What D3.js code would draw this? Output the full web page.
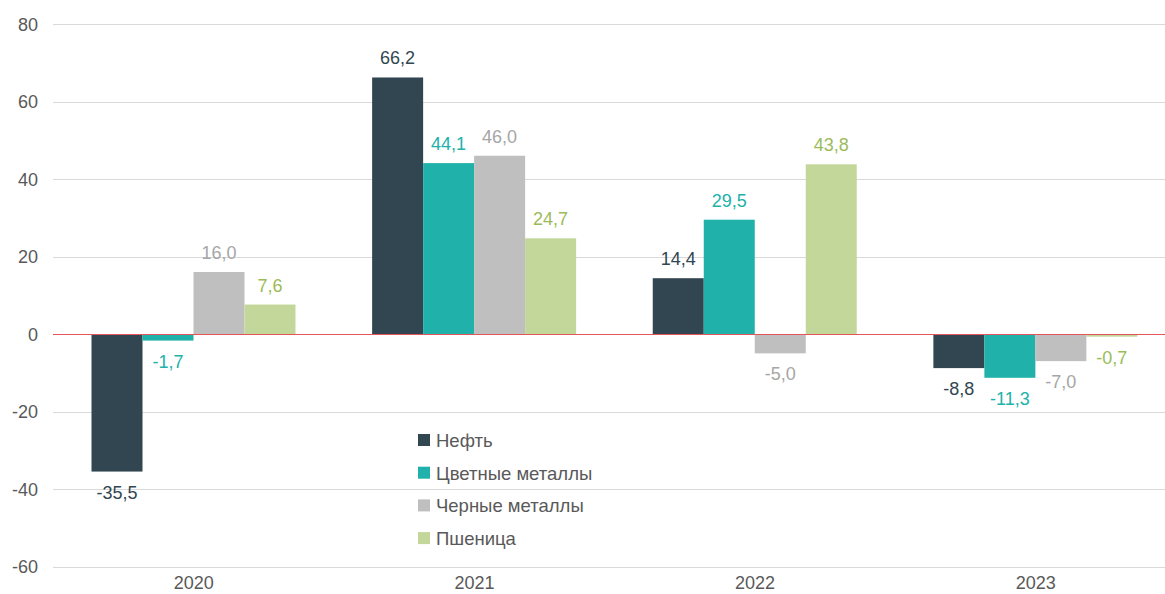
<!DOCTYPE html>
<html>
<head>
<meta charset="utf-8">
<script src="https://cdn.jsdelivr.net/npm/d3@7"></script>
<style>
  body { margin: 0; background: #fff; }
  svg { font-family: "Liberation Sans", Arial, sans-serif; }
</style>
</head>
<body>
<div class="container"></div>
<script>
// data
const years = ["2020", "2021", "2022", "2023"]
const series = ["Нефть", "Цветные металлы", "Черные металлы", "Пшеница"]
const oil = [-35.5, 66.2, 14.4, -8.8]
const nonFerrous = [-1.7, 44.1, 29.5, -11.3]
const ferrous = [16.0, 46.0, -5.0, -7.0]
const wheat = [7.6, 24.7, 43.8, -0.7]
const yTicks = [-60, -40, -20, 0, 20, 40, 60, 80]

const values = [oil, nonFerrous, ferrous, wheat]
const barColors = ["#314651", "#20B2AA", "#BFBFBF", "#C4D79B"]
const labelColors = ["#314651", "#20B2AA", "#A6A6A6", "#9BBB59"]

const w = 1165
const h = 594

const svg = d3.select(".container")
  .append("svg")
  .attr("width", w)
  .attr("height", h)

const yScale = d3.scaleLinear()
  .domain([-60, 80])
  .range([566.5, 24])

const xScale = d3.scaleBand()
  .domain(years)
  .range([53.5, 1176])
  .paddingInner(0)

// bars in each group: 4 * 51 = 204 of a 280 band
const inner = d3.scaleBand()
  .domain(d3.range(series.length))
  .range([38, 242])

// gridlines
svg.append("g")
  .selectAll("line")
  .data(yTicks.filter(t => t !== 0))
  .enter()
  .append("line")
  .attr("x1", 53)
  .attr("x2", w)
  .attr("y1", d => Math.round(yScale(d)) + 0.5)
  .attr("y2", d => Math.round(yScale(d)) + 0.5)
  .attr("stroke", "#D9D9D9")
  .attr("stroke-width", 1)

// y labels
svg.append("g")
  .selectAll("text")
  .data(yTicks)
  .enter()
  .append("text")
  .attr("x", 38)
  .attr("y", d => yScale(d) + 6.5)
  .attr("text-anchor", "end")
  .attr("fill", "#595959")
  .style("font-size", "18px")
  .text(d => d)

// bars
values.forEach((vals, i) => {
  const g = svg.append("g")
  g.selectAll("rect")
    .data(vals)
    .enter()
    .append("rect")
    .attr("x", (d, j) => xScale(years[j]) + inner(i))
    .attr("y", d => yScale(Math.max(0, d)))
    .attr("width", inner.bandwidth())
    .attr("height", d => Math.abs(yScale(d) - yScale(0)))
    .attr("fill", barColors[i])

  g.selectAll("text")
    .data(vals)
    .enter()
    .append("text")
    .attr("x", (d, j) => xScale(years[j]) + inner(i) + inner.bandwidth() / 2)
    .attr("y", d => d >= 0 ? yScale(d) - 13 : yScale(d) + 27)
    .attr("text-anchor", "middle")
    .attr("fill", labelColors[i])
    .style("font-size", "18px")
    .text(d => d3.format(".1f")(d).replace(".", ",").replace("−", "-"))
})

// zero line
svg.append("line")
  .attr("x1", 53)
  .attr("x2", w)
  .attr("y1", Math.round(yScale(0)) + 0.5)
  .attr("y2", Math.round(yScale(0)) + 0.5)
  .attr("stroke", "#E5545A")
  .attr("stroke-width", 1)

// x labels
svg.append("g")
  .selectAll("text")
  .data(years)
  .enter()
  .append("text")
  .attr("x", d => xScale(d) + xScale.bandwidth() / 2)
  .attr("y", 589)
  .attr("text-anchor", "middle")
  .attr("fill", "#595959")
  .style("font-size", "18px")
  .text(d => d)

// legend
const legend = svg.append("g")
  .selectAll("g")
  .data(series)
  .enter()
  .append("g")
  .attr("transform", (d, i) => "translate(418," + (440 + i * 32.7) + ")")

legend.append("rect")
  .attr("x", 0)
  .attr("y", -6)
  .attr("width", 12)
  .attr("height", 12)
  .attr("fill", (d, i) => barColors[i])

legend.append("text")
  .attr("x", 18)
  .attr("y", 7)
  .attr("fill", "#595959")
  .style("font-size", "18.5px")
  .text(d => d)
</script>
</body>
</html>
